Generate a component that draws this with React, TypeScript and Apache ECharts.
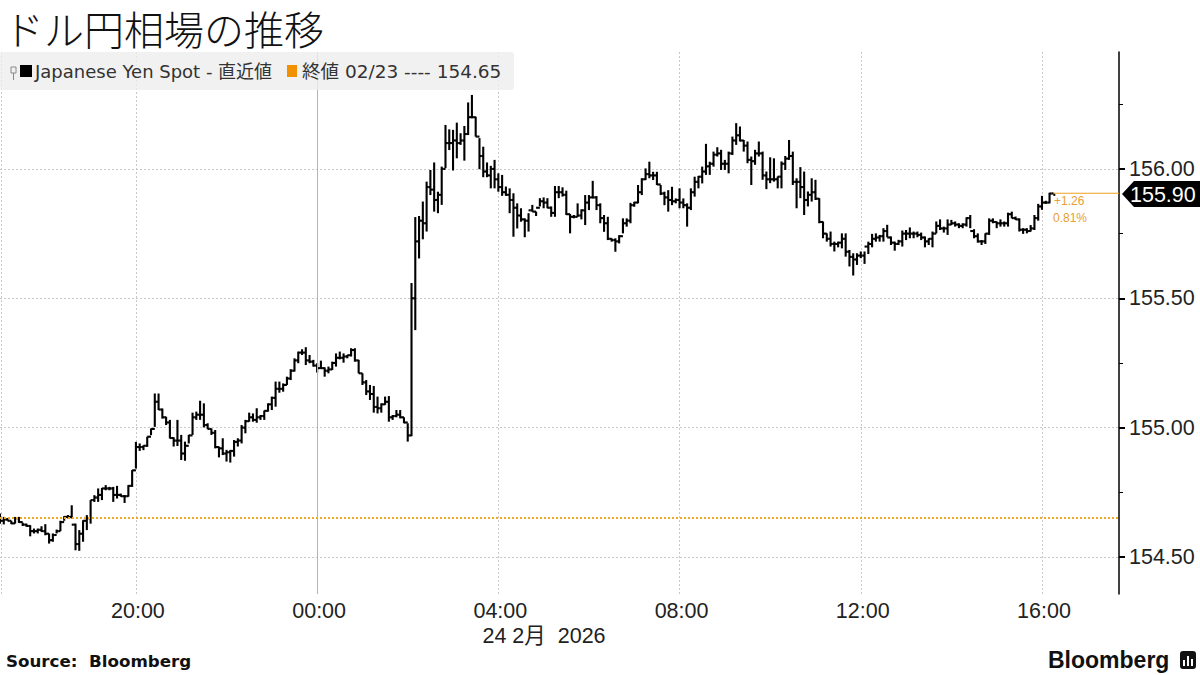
import React, { useEffect, useRef } from "react";
import * as echarts from "echarts";

const title = "ドル円相場の推移";
const seriesName = "Japanese Yen Spot - 直近値";
const priorLabel = "終値 02/23 ---- 154.65";
const sourceText = "Source:  Bloomberg";
const dateLabel = "24 2月  2026";
const changeLabels = ["+1.26", "0.81%"];
const lastLabel = "155.90";
const prevClose = 154.645;
const lastPrice = 155.906;

const startHour = 17;
const barHours = 1 / 12;
const tickHours = [17.02, 20, 24, 28, 32, 36, 40];
const labelHours = [20, 24, 28, 32, 36, 40];
const priceTicks = [154.5, 155, 155.5, 156];
const minorPriceTicks = [154.75, 155.25, 155.75, 156.25];

const highs = [
  154.668,154.655,154.651,154.640,154.655,154.655,154.633,154.629,154.623,154.610,
  154.610,154.619,154.627,154.591,154.591,154.606,154.640,154.658,154.662,154.700,
  154.629,154.604,154.642,154.662,154.720,154.739,154.765,154.767,154.778,154.771,
  154.771,154.775,154.745,154.739,154.778,154.836,154.945,154.939,154.932,154.965,
  154.997,155.132,155.132,155.074,155.042,155.030,154.963,155.030,154.972,154.946,
  154.972,155.058,155.062,155.104,155.094,155.017,154.997,154.991,154.927,154.959,
  154.914,154.914,154.952,154.959,155.010,155.030,155.058,155.055,155.075,155.049,
  155.066,155.094,155.120,155.178,155.178,155.171,155.197,155.226,155.268,155.294,
  155.303,155.311,155.281,155.262,155.249,155.259,155.233,155.236,155.255,155.287,
  155.294,155.287,155.281,155.307,155.307,155.262,155.210,155.184,155.165,155.161,
  155.120,155.094,155.120,155.122,155.049,155.068,155.068,155.040,155.017,155.559,
  155.814,155.818,155.874,155.951,155.996,156.025,155.912,156.009,156.170,156.153,
  156.151,156.179,156.138,156.166,156.257,156.286,156.202,156.119,156.086,156.025,
  156.012,156.035,155.983,155.977,155.932,155.925,155.906,155.867,155.848,155.809,
  155.829,155.861,155.835,155.887,155.890,155.887,155.855,155.934,155.934,155.929,
  155.916,155.826,155.822,155.867,155.844,155.899,155.899,155.954,155.895,155.867,
  155.822,155.815,155.732,155.732,155.744,155.809,155.809,155.869,155.873,155.938,
  155.964,156.002,156.028,155.989,155.989,155.938,155.912,155.918,155.931,155.886,
  155.925,155.886,155.867,155.925,155.970,155.973,156.009,156.097,156.028,156.067,
  156.084,156.074,156.035,156.067,156.125,156.177,156.164,156.112,156.106,156.048,
  156.074,156.106,156.067,155.990,156.045,156.041,155.971,156.029,156.050,156.112,
  156.067,155.964,156.007,155.990,155.913,155.964,155.958,155.887,155.797,155.751,
  155.758,155.719,155.719,155.751,155.751,155.687,155.674,155.674,155.681,155.681,
  155.719,155.749,155.751,155.745,155.771,155.784,155.739,155.719,155.726,155.762,
  155.764,155.774,155.758,155.758,155.754,155.739,155.732,155.758,155.797,155.805,
  155.777,155.805,155.803,155.797,155.790,155.790,155.813,155.822,155.767,155.751,
  155.725,155.751,155.809,155.809,155.797,155.805,155.797,155.831,155.835,155.816,
  155.809,155.771,155.771,155.783,155.822,155.865,155.896,155.877,155.908,155.908,
];

const lows = [
  154.629,154.626,154.640,154.627,154.629,154.632,154.620,154.617,154.580,154.591,
  154.591,154.597,154.584,154.552,154.559,154.591,154.600,154.640,154.649,154.649,
  154.526,154.524,154.559,154.604,154.629,154.713,154.713,154.720,154.758,154.758,
  154.713,154.726,154.733,154.709,154.733,154.771,154.842,154.910,154.913,154.926,
  154.971,155.003,155.068,155.035,155.010,154.958,154.927,154.929,154.875,154.872,
  154.939,154.972,155.030,155.030,155.001,154.994,154.972,154.920,154.885,154.894,
  154.869,154.865,154.888,154.927,154.939,154.978,155.023,155.023,155.019,155.030,
  155.030,155.062,155.068,155.081,155.135,155.139,155.165,155.184,155.217,155.249,
  155.281,155.242,155.249,155.236,155.213,155.229,155.197,155.210,155.223,155.236,
  155.264,155.251,155.268,155.275,155.255,155.210,155.165,155.126,155.107,155.058,
  155.055,155.058,155.088,155.023,155.030,155.040,155.036,155.017,154.946,154.967,
  155.377,155.654,155.728,155.758,155.899,155.835,155.829,155.861,156.003,156.073,
  155.994,156.041,156.093,156.032,156.131,156.196,156.125,155.999,155.968,155.968,
  155.925,155.925,155.912,155.896,155.896,155.829,155.738,155.770,155.796,155.736,
  155.758,155.835,155.818,155.855,155.848,155.848,155.815,155.815,155.887,155.893,
  155.822,155.751,155.809,155.815,155.805,155.783,155.841,155.886,155.841,155.790,
  155.757,155.725,155.719,155.680,155.712,155.751,155.777,155.790,155.854,155.867,
  155.899,155.957,155.964,155.957,155.938,155.899,155.860,155.835,155.860,155.867,
  155.848,155.848,155.777,155.841,155.893,155.925,155.944,155.977,155.977,156.009,
  156.048,155.996,155.996,155.983,156.054,156.093,156.106,156.067,156.022,155.938,
  156.016,156.048,155.958,155.922,155.945,155.951,155.925,155.925,155.996,156.035,
  155.938,155.848,155.887,155.822,155.855,155.874,155.880,155.790,155.732,155.719,
  155.700,155.681,155.697,155.693,155.661,155.623,155.588,155.629,155.655,155.633,
  155.671,155.697,155.719,155.719,155.719,155.736,155.706,155.684,155.706,155.700,
  155.725,155.732,155.732,155.736,155.725,155.697,155.706,155.697,155.751,155.764,
  155.754,155.745,155.783,155.777,155.771,155.771,155.777,155.771,155.732,155.715,
  155.706,155.710,155.745,155.790,155.771,155.777,155.777,155.777,155.809,155.803,
  155.758,155.749,155.751,155.758,155.764,155.800,155.842,155.865,155.867,155.903,
];

const closes = [
  154.64,154.645,154.64,154.63,154.65,154.635,154.625,154.62,154.60,154.60,
  154.605,154.60,154.59,154.565,154.585,154.60,154.635,154.655,154.655,154.625,
  154.55,154.59,154.64,154.65,154.72,154.73,154.74,154.765,154.765,154.765,
  154.74,154.74,154.735,154.735,154.775,154.835,154.925,154.925,154.93,154.965,
  154.995,155.10,155.07,155.04,155.02,154.96,154.95,154.95,154.90,154.93,
  154.97,155.04,155.05,155.05,155.01,154.995,154.98,154.925,154.92,154.90,
  154.905,154.91,154.945,154.95,155.00,155.025,155.04,155.03,155.04,155.045,
  155.065,155.09,155.115,155.15,155.15,155.165,155.19,155.22,155.26,155.29,
  155.29,155.26,155.255,155.24,155.23,155.23,155.22,155.225,155.25,155.27,
  155.27,155.275,155.28,155.30,155.26,155.21,155.175,155.14,155.13,155.08,
  155.075,155.09,155.10,155.04,155.045,155.05,155.04,155.02,154.97,155.50,
  155.72,155.80,155.79,155.93,155.92,155.88,155.90,156.00,156.10,156.10,
  156.11,156.10,156.11,156.135,156.20,156.20,156.125,156.05,155.99,155.975,
  156.00,155.96,155.93,155.91,155.90,155.88,155.85,155.82,155.805,155.80,
  155.84,155.835,155.85,155.875,155.87,155.85,155.83,155.91,155.91,155.90,
  155.825,155.815,155.815,155.82,155.84,155.87,155.89,155.89,155.86,155.81,
  155.79,155.73,155.725,155.72,155.74,155.79,155.80,155.86,155.87,155.91,
  155.96,155.98,155.975,155.975,155.94,155.905,155.89,155.88,155.875,155.88,
  155.87,155.86,155.85,155.91,155.95,155.97,155.99,156.01,156.02,156.055,
  156.06,156.02,156.02,156.06,156.11,156.13,156.11,156.09,156.035,156.03,
  156.06,156.06,155.975,155.96,155.96,155.96,155.97,156.02,156.04,156.05,
  155.95,155.95,155.93,155.88,155.90,155.91,155.885,155.795,155.75,155.73,
  155.71,155.71,155.715,155.73,155.68,155.66,155.65,155.665,155.665,155.70,
  155.71,155.73,155.735,155.74,155.76,155.735,155.715,155.71,155.72,155.75,
  155.75,155.75,155.75,155.745,155.735,155.72,155.73,155.75,155.78,155.77,
  155.77,155.785,155.79,155.785,155.78,155.785,155.81,155.76,155.74,155.72,
  155.72,155.75,155.80,155.795,155.79,155.79,155.79,155.825,155.81,155.805,
  155.765,155.765,155.76,155.77,155.81,155.855,155.87,155.87,155.905,155.90,
];

const firstOpen = 154.65;

const xMin = 17;
const xMax = 41.7;
const yMin = 154.357;
const yMax = 156.452;
const cjk = '"DejaVu Sans", "Noto Sans CJK JP", sans-serif';
const sans = '"Liberation Sans", "Noto Sans CJK JP", sans-serif';
const orange = "#f29100";

function renderBar(_params: any, api: any) {
  const hour = api.value(0);
  const top = api.coord([hour, api.value(2)]);
  const bottom = api.coord([hour, api.value(3)]);
  const open = api.coord([hour, api.value(1)]);
  const close = api.coord([hour, api.value(4)]);
  const style = { stroke: "#000", lineWidth: 2.1, fill: "none" };
  return {
    type: "group",
    children: [
      { type: "line", shape: { x1: top[0], y1: top[1], x2: bottom[0], y2: bottom[1] }, style },
      { type: "line", shape: { x1: open[0] - 2, y1: open[1], x2: open[0], y2: open[1] }, style },
      { type: "line", shape: { x1: close[0], y1: close[1], x2: close[0] + 2, y2: close[1] }, style },
    ],
  };
}

function pad(n: number) {
  return n < 10 ? "0" + n : "" + n;
}

export default function App() {
  const ref = useRef<HTMLDivElement>(null);
  useEffect(() => {
    document.body.style.margin = "0";
    const chart = echarts.init(ref.current!, null, { renderer: "svg", width: 1200, height: 675 });
    const bars = highs.map((h, i) => [
      startHour + i * barHours,
      i === 0 ? firstOpen : closes[i - 1],
      h,
      lows[i],
      closes[i],
    ]);
    const lastHour = bars[bars.length - 1][0];
    const text = (x: number, y: number, t: string, fontSize: number, fill: string, extra: any = {}) => ({
      type: "text",
      x,
      y,
      silent: true,
      style: { text: t, fontSize, fill, fontFamily: sans, textVerticalAlign: "middle", ...extra },
    });
    chart.setOption({
      animation: false,
      backgroundColor: "#ffffff",
      grid: { left: 0, top: 52, width: 1119, height: 542, containLabel: false },
      xAxis: {
        type: "value",
        min: xMin,
        max: xMax,
        axisLine: { show: false },
        axisTick: { show: false, customValues: tickHours },
        axisLabel: {
          customValues: labelHours,
          color: "#222",
          fontSize: 21.5,
          fontFamily: sans,
          margin: 6,
          padding: [0, 0, 0, 4],
          formatter: (v: number) => pad(v % 24) + ":00",
        },
        splitLine: { show: true, lineStyle: { color: "#c8c8c8", type: [2, 2], width: 1 } },
      },
      yAxis: [
        {
          type: "value",
          position: "right",
          min: yMin,
          max: yMax,
          axisLine: { show: true, lineStyle: { color: "#000", width: 1.5 } },
          axisTick: { show: true, length: 6, customValues: priceTicks, lineStyle: { color: "#000", width: 2 } },
          axisLabel: {
            customValues: priceTicks,
            color: "#222",
            fontSize: 21.5,
            fontFamily: sans,
            margin: 10,
            formatter: (v: number) => v.toFixed(2),
          },
          splitLine: { show: true, lineStyle: { color: "#c8c8c8", type: [2, 2], width: 1 } },
        },
        {
          type: "value",
          position: "right",
          min: yMin,
          max: yMax,
          axisLine: { show: false },
          axisTick: { show: true, length: 4, customValues: minorPriceTicks, lineStyle: { color: "#000", width: 1 } },
          axisLabel: { show: false },
          splitLine: { show: false },
        },
      ],
      series: [
        {
          name: "Japanese Yen Spot",
          type: "line",
          data: [[lastHour, lastPrice]],
          showSymbol: false,
          silent: true,
          z: 1,
          markLine: {
            silent: true,
            symbol: "none",
            label: { show: false },
            data: [{ xAxis: 24, lineStyle: { color: "#b4b4b4", type: "solid", width: 1 } }],
          },
        },
        {
          type: "custom",
          name: "OHLC",
          renderItem: renderBar,
          data: bars,
          encode: { x: 0, y: [1, 2, 3, 4] },
          silent: true,
          clip: false,
          z: 3,
        },
        {
          name: "Prior close",
          type: "line",
          data: [[lastHour, lastPrice], [xMax, lastPrice]],
          showSymbol: false,
          silent: true,
          z: 4,
          itemStyle: { color: "#f0a020" },
          lineStyle: { color: "#f0a020", type: "solid", width: 1.2 },
          markLine: {
            silent: true,
            symbol: "none",
            label: { show: false },
            data: [{ yAxis: prevClose, lineStyle: { color: "#f5a623", type: [2, 2], width: 2 } }],
          },
        },
      ],
      graphic: [
        text(4, 28, title, 40, "#111", { fontFamily: '"Noto Sans CJK JP", serif', fontWeight: 300 }),
        { type: "rect", z: 10, silent: true, shape: { x: 0, y: 52, width: 514, height: 38, r: 3 }, style: { fill: "rgba(238,238,238,0.8)" } },
        { type: "rect", z: 11, silent: true, shape: { x: 11, y: 67, width: 5, height: 6 }, style: { fill: "none", stroke: "#888", lineWidth: 1 } },
        { type: "line", z: 11, silent: true, shape: { x1: 13.5, y1: 73, x2: 13.5, y2: 80 }, style: { stroke: "#888", lineWidth: 1 } },
        { type: "rect", z: 11, silent: true, shape: { x: 20, y: 65, width: 12, height: 12 }, style: { fill: "#000" } },
        { ...text(35, 71, seriesName, 18, "#333", { fontFamily: cjk }), z: 11 },
        { type: "rect", z: 11, silent: true, shape: { x: 287, y: 65, width: 10, height: 12 }, style: { fill: orange } },
        { ...text(302, 71, priorLabel, 18.5, "#333", { fontFamily: cjk }), z: 11 },
        { type: "polygon", z: 11, silent: true, shape: { points: [[1122, 194], [1134, 181], [1200, 181], [1200, 207], [1134, 207]] }, style: { fill: "#000" } },
        { ...text(1130, 194.5, lastLabel, 21.5, "#fff"), z: 12 },
        { ...text(1054, 201, changeLabels[0], 12, "#e8a030"), z: 12 },
        { ...text(1053, 218, changeLabels[1], 12, "#e8a030"), z: 12 },
        text(544, 636, dateLabel, 21.5, "#222", { textAlign: "center" }),
        text(6, 661, sourceText, 16.7, "#111", { fontWeight: "bold", fontFamily: '"DejaVu Sans", sans-serif' }),
        text(1048, 660, "Bloomberg", 23, "#111", { fontWeight: "bold", fontFamily: '"Liberation Sans", sans-serif' }),
        { type: "rect", silent: true, shape: { x: 1180, y: 651, width: 16, height: 18, r: 3 }, style: { fill: "#111" } },
        { type: "rect", silent: true, shape: { x: 1183, y: 660, width: 2, height: 6 }, style: { fill: "#fff" } },
        { type: "rect", silent: true, shape: { x: 1187, y: 656, width: 2, height: 10 }, style: { fill: "#fff" } },
        { type: "rect", silent: true, shape: { x: 1191, y: 659, width: 2, height: 7 }, style: { fill: "#fff" } },
      ],
    });
    return () => chart.dispose();
  }, []);
  return <div ref={ref} style={{ position: "absolute", left: 0, top: 0, width: 1200, height: 675 }} />;
}
